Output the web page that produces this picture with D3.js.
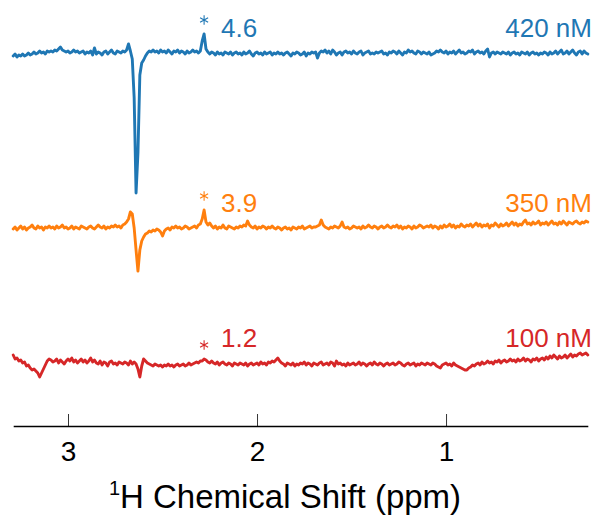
<!DOCTYPE html>
<html>
<head>
<meta charset="utf-8">
<script src="https://cdn.jsdelivr.net/npm/d3@7"></script>
<style>
  html, body { margin: 0; padding: 0; background: #fff; }
  svg { display: block; font-family: "Liberation Sans", Arial, Helvetica, sans-serif; }
</style>
</head>
<body>
<svg id="chart" width="595" height="515"></svg>
<script>
// ---- data ----
// chemical shift grid: 3.29 ppm down to 0.25 ppm in 0.01 ppm steps (305 points)
const ppmStart = 3.29, ppmStep = 0.01, nPoints = 305;
const ppm = d3.range(nPoints).map(i => +(ppmStart - i * ppmStep).toFixed(2));

const seriesNames = ["420 nM", "350 nM", "100 nM"];
const ratioLabels = ["4.6", "3.9", "1.2"];
const seriesOffsets = [373, 198, 63];
const seriesColors = ["#1f77b4", "#ff7f0e", "#d62728"];
const starPpm = 2.28;
const tickValues = [3, 2, 1];
const tickLabels = ["3", "2", "1"];

const blue = [
  -3,-1,-4,-2,-3,-1,-3,-2,0,-2,-1,1,-1,0,2,0,1,-1,2,1,
  2,1,3,2,4,6,3,2,1,2,0,1,3,1,2,0,1,2,-1,1,
  0,2,-2,5,-1,1,0,-2,1,2,-1,1,3,0,-1,2,1,0,2,1,
  3,9,2,-6,-45,-140,-100,-22,-10,-7,-3,0,2,1,3,1,2,0,3,1,
  2,0,3,1,-1,2,1,3,0,2,1,-1,2,0,1,3,1,2,0,2,
  12,19,4,1,-1,1,0,-2,1,-1,0,-2,1,0,-1,1,-2,0,1,-1,
  0,-2,1,-1,0,2,-1,-3,0,1,-1,0,-2,1,-1,0,1,-2,0,-1,
  1,-1,0,-2,0,1,-1,-3,0,-1,1,0,-2,-1,1,-3,0,-1,1,0,
  1,-5,0,2,1,3,0,2,-1,3,1,-2,0,1,-2,1,2,0,1,-1,
  2,0,-1,1,2,-2,0,1,2,-1,0,-1,1,0,1,2,-1,0,-2,1,
  0,2,1,-1,2,0,-2,1,0,3,1,2,0,-1,2,1,-1,1,0,-1,
  1,-2,-1,0,2,1,3,1,0,2,-1,1,0,2,-1,1,3,0,1,-1,
  0,2,1,3,-1,1,2,0,1,-1,2,4,-4,0,1,-1,1,0,-1,1,
  0,-1,1,-2,0,1,-1,0,-2,1,0,-1,1,-2,0,1,-1,0,-2,0,
  -1,1,0,-2,1,-1,0,2,-1,1,3,-1,0,2,-1,1,3,0,-2,1,2,-1,2,0,-1
];
const orange = [
  -1,1,-2,0,2,-1,1,-2,0,1,3,0,-1,2,0,1,-2,1,0,2,
  0,1,-1,2,0,1,3,0,1,-1,0,2,-1,1,0,-1,2,1,0,-1,
  1,2,0,-1,1,3,1,0,2,-1,1,0,2,1,3,1,2,0,3,4,
  6,9,16,14,0,-22,-43,-22,-13,-9,-6,-5,-3,-4,-2,-3,-1,-2,-4,-8,
  -3,-1,0,-2,1,0,2,0,1,-1,0,2,1,-1,0,1,2,0,3,4,
  9,18,6,3,5,2,0,2,-1,1,0,3,0,-1,2,1,0,-1,1,0,
  2,1,3,2,7,3,1,0,2,-1,1,0,2,1,-1,1,0,2,0,-1,
  1,0,-2,0,1,-1,0,-2,1,0,-1,1,0,2,-1,0,1,2,0,1,
  1,2,3,8,3,1,0,-1,1,0,2,1,0,2,6,1,0,1,-1,0,
  2,1,0,1,-1,2,0,1,3,1,0,2,1,-1,1,2,0,1,3,1,
  0,2,1,3,0,2,-1,1,0,2,1,-1,2,0,1,3,2,0,1,2,
  1,3,0,2,1,-1,2,0,3,1,2,4,1,3,0,2,1,4,2,1,
  3,2,4,1,3,5,2,4,1,3,2,4,0,3,2,5,3,1,4,2,
  3,5,2,4,6,3,5,2,4,3,6,8,4,5,3,6,4,5,7,3,
  5,4,6,3,5,7,4,5,3,6,4,7,5,3,6,5,4,6,7,5,4,6,5,7,6
];
const red = [
  8,4,5,2,3,0,1,-3,-2,-5,-7,-6,-8,-10,-14,-10,-6,-2,2,4,
  3,1,2,4,0,3,1,-1,2,4,2,5,1,3,0,2,4,1,3,0,
  2,5,1,3,0,-1,2,-2,1,0,-3,1,2,-1,0,-2,1,0,-1,1,
  0,-2,2,-1,1,-1,-6,-14,-3,4,2,0,-1,-2,-3,-1,-2,-3,-2,-4,
  -2,-3,-1,-3,-2,-4,-2,-1,-3,-2,-1,-3,-2,0,-2,-1,0,1,0,2,
  2,4,3,1,0,2,0,-1,1,-2,0,1,-1,-2,0,-1,-3,0,-1,-2,
  0,-1,-2,0,-3,-1,0,-2,-1,0,-2,1,-1,0,-2,1,0,2,1,3,
  5,2,0,-1,-3,0,-1,-2,0,-3,-1,-2,0,-1,1,-2,0,-1,-3,0,
  -1,-2,0,1,-2,-1,0,-2,1,0,-3,2,-1,0,-2,-1,-3,0,-2,-1,
  0,-2,-1,1,-2,0,-1,-3,-1,0,-2,1,-1,-2,0,-1,-3,-1,0,-2,
  -1,0,-2,-1,1,0,-2,-3,-1,0,-2,-1,0,-3,-1,-2,0,-1,-2,0,
  -1,-2,0,-1,-3,-4,-5,-2,-1,0,-2,-1,-3,0,-2,-3,-4,-5,-6,-7,
  -7,-5,-4,-2,-3,-1,0,-2,1,-1,0,2,0,1,-1,2,1,3,0,2,
  3,1,2,4,2,3,1,4,2,3,5,2,4,3,1,4,3,5,2,4,
  5,3,6,4,7,5,8,6,4,7,5,6,8,5,7,9,6,8,7,9,10,8,9,10,8
];
const seriesValues = [blue, orange, red];

// ---- layout ----
const axisY = 426;
const svg = d3.select("#chart");

const x = d3.scaleLinear().domain([3.29, 0.25]).range([13.2, 587.8]);
const y = d3.scaleLinear().domain([0, 426]).range([axisY, 0]);

const line = d3.line()
  .x((d, i) => x(ppm[i]))
  .y(d => d)
  .curve(d3.curveLinear);

seriesValues.forEach((vals, k) => {
  const off = seriesOffsets[k];
  const col = seriesColors[k];
  svg.append("path")
    .attr("d", line(vals.map(v => y(off + v))))
    .attr("fill", "none")
    .attr("stroke", col)
    .attr("stroke-width", 2.9)
    .attr("stroke-linejoin", "round")
    .attr("stroke-linecap", "round");

  // local max near the starred peak
  const near = vals.filter((v, i) => Math.abs(ppm[i] - starPpm) <= 0.015);
  const pk = d3.max(near);
  svg.append("path")
    .attr("transform", `translate(${x(starPpm)},${y(off + pk + 14)})`)
    .attr("d", d3.symbol(d3.symbolAsterisk, 60)())
    .attr("fill", "none")
    .attr("stroke", col)
    .attr("stroke-width", 1.1);

  svg.append("text")
    .attr("x", x(2.19))
    .attr("y", y(off + 16))
    .attr("fill", col)
    .attr("font-size", 26)
    .text(ratioLabels[k]);

  svg.append("text")
    .attr("x", 592)
    .attr("y", y(off + 16))
    .attr("text-anchor", "end")
    .attr("fill", col)
    .attr("font-size", 26)
    .text(seriesNames[k]);
});

// ---- axis ----
const axis = d3.axisBottom(x)
  .tickValues(tickValues)
  .tickFormat((d, i) => tickLabels[i])
  .tickSizeInner(-12)
  .tickSizeOuter(0)
  .tickPadding(15);

const gx = svg.append("g").attr("transform", `translate(0,${axisY})`).call(axis);
gx.select(".domain").attr("stroke", "#000").attr("stroke-width", 1.5);
gx.selectAll(".tick line").attr("stroke", "#000").attr("stroke-width", 0.8);
gx.selectAll(".tick text")
  .attr("fill", "#000")
  .attr("font-size", 28)
  .attr("font-family", '"Liberation Sans", Arial, Helvetica, sans-serif');

const title = svg.append("text")
  .attr("x", 285)
  .attr("y", 508)
  .attr("text-anchor", "middle")
  .attr("font-size", 33)
  .attr("fill", "#000");
title.append("tspan").attr("font-size", 20).attr("dy", -13).text("1");
title.append("tspan").attr("dy", 13).text("H Chemical Shift (ppm)");
</script>
</body>
</html>
